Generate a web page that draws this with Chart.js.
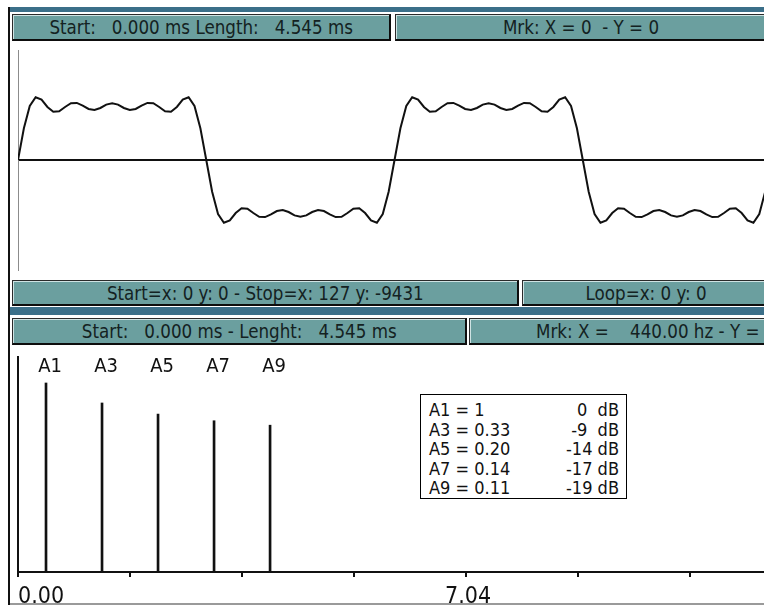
<!DOCTYPE html>
<html>
<head>
<meta charset="utf-8">
<script src="https://cdn.jsdelivr.net/npm/chart.js@4.4.1/dist/chart.umd.min.js"></script>
<style>
  html, body { margin: 0; padding: 0; background: #fff; }
  body { width: 764px; height: 607px; position: relative; overflow: hidden;
         font-family: "Liberation Sans Narrow", "DejaVu Sans Condensed", "Arial Narrow", sans-serif; }
  .abs { position: absolute; }
  .bar { position: absolute; box-sizing: border-box; background: #6b9f9f;
         border-top: 1px solid #2a2a2a; border-left: 1px solid #2a2a2a;
         border-bottom: 2px solid #0d0d0d; border-right: 2px solid #0d0d0d;
         box-shadow: inset 1px 1px 0 #cfe3e3;
         color: #142222; font-size: 20px; white-space: pre; overflow: hidden;
         display: flex; align-items: center; justify-content: center; }
  .bar span { display: inline-block; transform: scaleX(0.93); }
  .band { position: absolute; background: #3b6f89; }
  #tbl { position: absolute; left: 420px; top: 394px; width: 207px; height: 105px;
         box-sizing: border-box; border: 1px solid #000; background: #fff;
         font-size: 18px; color: #111; padding-top: 5px; }
  #tbl .row { position: relative; height: 19.5px; line-height: 19.5px; white-space: pre; }
  #tbl .l { position: absolute; left: 8px; }
  #tbl .r { position: absolute; right: 7px; }
</style>
</head>
<body>
<!-- window frame -->
<div class="abs" style="left:8px;top:7px;width:2px;height:598px;background:#111"></div>
<div class="band" style="left:10px;top:7px;width:754px;height:5px"></div>
<div class="abs" style="left:10px;top:603px;width:754px;height:2px;background:#9a9a9a"></div>

<!-- upper status row -->
<div class="bar" style="left:12px;top:14px;width:379px;height:27px"><span>Start:   0.000 ms Length:   4.545 ms</span></div>
<div class="bar" style="left:395px;top:14px;width:372px;height:27px"><span>Mrk: X = 0  - Y = 0</span></div>

<canvas id="wave" class="abs" style="left:0;top:42px" width="764" height="236"></canvas>

<!-- middle status rows -->
<div class="bar" style="left:12px;top:280px;width:507px;height:26px"><span>Start=x: 0 y: 0 - Stop=x: 127 y: -9431</span></div>
<div class="bar" style="left:522px;top:280px;width:250px;height:26px"><span>Loop=x: 0 y: 0</span></div>
<div class="band" style="left:10px;top:307px;width:754px;height:8px"></div>
<div class="bar" style="left:12px;top:318px;width:455px;height:27px"><span>Start:   0.000 ms - Lenght:   4.545 ms</span></div>
<div class="bar" style="left:469px;top:318px;width:300px;height:27px;justify-content:flex-start;padding-left:66px"><span style="transform-origin:left center">Mrk: X =    440.00 hz - Y =</span></div>

<canvas id="spec" class="abs" style="left:0;top:347px" width="764" height="258"></canvas>
<div id="tbl"></div>

<script>
// Two periods of the 440 Hz waveform, 16-bit sample values, index 0..128
const waveSamples = [
  0, 9431, 16100, 18700, 18000, 15800, 14400, 14500, 15800, 16900, 17000, 16200, 15200, 14900, 15500, 16500,
  16900, 16500, 15500, 14900, 15200, 16200, 17000, 16900, 15800, 14500, 14400, 15800, 18000, 18700, 16100, 9431,
  0, -9431, -16100, -18700, -18000, -15800, -14400, -14500, -15800, -16900, -17000, -16200, -15200, -14900, -15500, -16500,
  -16900, -16500, -15500, -14900, -15200, -16200, -17000, -16900, -15800, -14500, -14400, -15800, -18000, -18700, -16100, -9431,
  0, 9431, 16100, 18700, 18000, 15800, 14400, 14500, 15800, 16900, 17000, 16200, 15200, 14900, 15500, 16500,
  16900, 16500, 15500, 14900, 15200, 16200, 17000, 16900, 15800, 14500, 14400, 15800, 18000, 18700, 16100, 9431,
  0, -9431, -16100, -18700, -18000, -15800, -14400, -14500, -15800, -16900, -17000, -16200, -15200, -14900, -15500, -16500,
  -16900, -16500, -15500, -14900, -15200, -16200, -17000, -16900, -15800, -14500, -14400, -15800, -18000, -18700, -16100, -9431,
  0
];

// Harmonic spectrum
const harmonicNames = ['A1', 'A3', 'A5', 'A7', 'A9'];
const harmonicFreqKHz = [0.44, 1.32, 2.20, 3.08, 3.96];
const harmonicAmp = [1, 0.33, 0.20, 0.14, 0.11];
const harmonicDb = [0, -9, -14, -17, -19];

// Frequency axis (kHz)
const freqTicks = [0, 1.76, 3.52, 5.28, 7.04, 8.80, 10.56];
const freqTickLabels = ['0.00', '', '', '', '7.04', '', ''];

const FONT = '"Liberation Sans Narrow", "DejaVu Sans Condensed", "Arial Narrow", sans-serif';

// amplitude table
const tbl = document.getElementById('tbl');
harmonicNames.forEach((n, i) => {
  const a = harmonicAmp[i] === 1 ? '1' : harmonicAmp[i].toFixed(2);
  const d = harmonicDb[i];
  const row = document.createElement('div');
  row.className = 'row';
  row.innerHTML = '<span class="l">' + n + ' = ' + a + '</span>' +
                  '<span class="r">' + d + (Math.abs(d) < 10 ? '  dB' : ' dB') + '</span>';
  tbl.appendChild(row);
});

// ---- waveform ----
new Chart(document.getElementById('wave'), {
  type: 'line',
  data: {
    datasets: [{
      data: waveSamples.map((v, i) => ({ x: i, y: v })),
      borderColor: '#111',
      borderWidth: 2,
      pointRadius: 0,
      tension: 0
    }]
  },
  options: {
    responsive: false,
    animation: false,
    layout: { padding: { left: 18, right: 0, top: 8, bottom: 8 } },
    plugins: { legend: { display: false }, tooltip: { enabled: false } },
    scales: {
      x: { type: 'linear', min: 0, max: 126.8, display: false },
      y: {
        min: -32768, max: 32768,
        afterBuildTicks: s => { s.ticks = [{ value: 0 }]; },
        ticks: { display: false },
        grid: { display: true, drawTicks: false, color: '#111', lineWidth: 2 },
        border: { display: true, color: '#8c8c8c', width: 1 }
      }
    }
  }
});

// ---- spectrum ----
// harmonic names above the lines and the frequency labels under the axis
const specLabels = {
  id: 'specLabels',
  afterDraw(chart) {
    const { ctx, scales: { x } } = chart;
    ctx.save();
    ctx.fillStyle = '#111';
    ctx.textBaseline = 'alphabetic';
    ctx.font = '20px ' + FONT;
    ctx.textAlign = 'center';
    harmonicNames.forEach((n, i) => {
      ctx.fillText(n, x.getPixelForValue(harmonicFreqKHz[i]) + 4, 25);
    });
    ctx.font = '23px ' + FONT;
    freqTicks.forEach((v, i) => {
      if (!freqTickLabels[i]) return;
      ctx.textAlign = i === 0 ? 'left' : 'center';
      ctx.fillText(freqTickLabels[i], x.getPixelForValue(v) + (i === 0 ? 0 : 2), 256);
    });
    ctx.restore();
  }
};

const DB_FLOOR = -85.1, DB_TOP = 11.7;
new Chart(document.getElementById('spec'), {
  type: 'bar',
  data: {
    datasets: [{
      data: harmonicDb.map((d, i) => ({ x: harmonicFreqKHz[i], y: d })),
      base: DB_FLOOR,
      backgroundColor: '#111',
      borderWidth: 0,
      barThickness: 2
    }]
  },
  options: {
    responsive: false,
    animation: false,
    layout: { padding: { left: 18, right: 0, top: 10, bottom: 28 } },
    plugins: { legend: { display: false }, tooltip: { enabled: false } },
    scales: {
      x: {
        type: 'linear', min: 0, max: 11.72, offset: false,
        afterBuildTicks: s => { s.ticks = freqTicks.map(v => ({ value: v })); },
        ticks: { display: false },
        grid: { display: true, offset: false, drawOnChartArea: false, drawTicks: true, tickLength: 5, color: '#111', lineWidth: 2 },
        border: { display: true, color: '#111', width: 2 }
      },
      y: {
        min: DB_FLOOR, max: DB_TOP,
        ticks: { display: false },
        grid: { display: false, drawTicks: false },
        border: { display: true, color: '#111', width: 2 }
      }
    }
  },
  plugins: [specLabels]
});
</script>
</body>
</html>
